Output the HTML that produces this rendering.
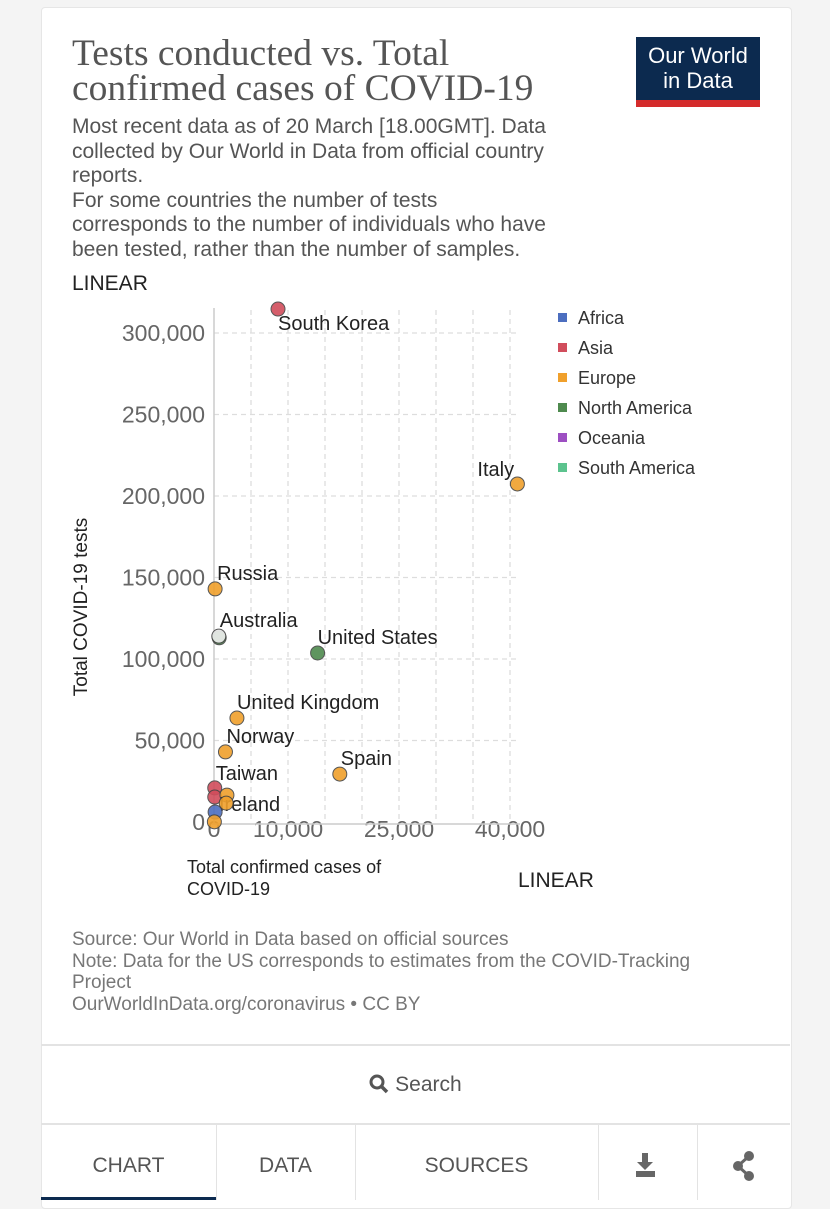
<!DOCTYPE html>
<html><head><meta charset="utf-8"><style>
body{margin:0;width:830px;height:1200px;background:#f4f4f4;font-family:"Liberation Sans",sans-serif;overflow:hidden;position:relative}
.card{position:absolute;left:41px;top:7px;width:749px;height:1200px;background:#fff;border:1px solid #e6e6e6;border-radius:4px}
.abs{position:absolute}
</style></head><body>
<div class="card"></div>
<div class="abs" style="left:72px;top:36px;font-family:'Liberation Serif',serif;font-size:37.5px;line-height:35px;color:#555;white-space:nowrap">Tests conducted vs. Total<br>confirmed cases of COVID-19</div>
<div class="abs" style="left:636px;top:37px;width:124px;height:70px;background:#0c2a4f;color:#fff;text-align:center;font-size:22px;line-height:25px;padding-top:6px;box-sizing:border-box;border-bottom:7px solid #d42b2b">Our World<br>in Data</div>
<div class="abs" style="left:72px;top:115px;font-size:21px;line-height:24.6px;color:#555;white-space:nowrap">Most recent data as of 20 March [18.00GMT]. Data<br>collected by Our World in Data from official country<br>reports.<br>For some countries the number of tests<br>corresponds to the number of individuals who have<br>been tested, rather than the number of samples.</div>
<div class="abs" style="left:72px;top:272px;font-size:21px;color:#222">LINEAR</div>
<div class="abs" style="left:518px;top:869px;font-size:21px;color:#222">LINEAR</div>
<div class="abs" style="left:187px;top:856px;font-size:18px;line-height:22px;color:#222">Total confirmed cases of<br>COVID-19</div>
<div class="abs" style="left:82px;top:607px;font-size:19px;color:#222;transform:translate(-50%,-50%) rotate(-90deg);white-space:nowrap">Total COVID-19 tests</div>
<svg class="abs" style="left:0;top:0" width="830" height="1000" id="chart"></svg>
<div class="abs" style="left:72px;top:929px;font-size:19px;line-height:21.5px;color:#777;width:640px">Source: Our World in Data based on official sources<br>Note: Data for the US corresponds to estimates from the COVID-Tracking Project<br>OurWorldInData.org/coronavirus • CC BY</div>
<div class="abs" style="left:41px;top:1044px;width:749px;height:81px;border-top:2px solid #e3e3e3;border-bottom:2px solid #e3e3e3;box-sizing:border-box;text-align:center;line-height:78px;font-size:21px;color:#555"><svg width="20" height="20" viewBox="0 0 20 20" style="vertical-align:-3px"><circle cx="8" cy="8" r="6" fill="none" stroke="#555" stroke-width="3"/><line x1="12" y1="12" x2="18" y2="18" stroke="#555" stroke-width="3.5"/></svg> Search</div>
<div class="abs" style="left:41px;top:1125px;width:175px;height:75px;text-align:center;line-height:82px;font-size:21px;color:#555;border-right:1px solid #e3e3e3;box-shadow:inset 0 -3px 0 #0c2a4f">CHART</div>
<div class="abs" style="left:216px;top:1125px;width:139px;height:75px;text-align:center;line-height:82px;font-size:21px;color:#555;border-right:1px solid #e3e3e3">DATA</div>
<div class="abs" style="left:355px;top:1125px;width:243px;height:75px;text-align:center;line-height:82px;font-size:21px;color:#555;border-right:1px solid #e3e3e3">SOURCES</div>
<div class="abs" style="left:598px;top:1125px;width:99px;height:75px;border-right:1px solid #e3e3e3"><svg width="99" height="75"><rect x="44" y="28" width="6" height="10" fill="#666"/><polygon points="39,37 55,37 47,45" fill="#666"/><rect x="38" y="46" width="19" height="6" fill="#666"/></svg></div>
<div class="abs" style="left:697px;top:1125px;width:93px;height:75px"><svg width="93" height="75"><line x1="52" y1="31" x2="41" y2="41" stroke="#666" stroke-width="3"/><line x1="52" y1="51" x2="41" y2="41" stroke="#666" stroke-width="3"/><circle cx="52" cy="31" r="5" fill="#666"/><circle cx="41" cy="41" r="5" fill="#666"/><circle cx="52" cy="51" r="5" fill="#666"/></svg></div>
<script>
const countries=["South Korea","Italy","Russia","Canada","Australia","United States","United Kingdom","Norway","Spain","Taiwan","Japan","Ireland","Austria","South Africa","Other Europe"];
const cases=[8650,41000,150,700,650,14000,3100,1550,17000,100,100,1750,1650,150,50];
const tests=[314700,207400,143000,113000,114000,103700,63800,43000,29400,20900,15300,16500,11600,6100,100];
const regions=["Asia","Europe","Europe","North America","Oceania","North America","Europe","Europe","Europe","Asia","Asia","Europe","Europe","Africa","Europe"];
const labels=["South Korea","Italy","Russia","","Australia","United States","United Kingdom","Norway","Spain","Taiwan","","Ireland","","",""];
const yTicks=[0,50000,100000,150000,200000,250000,300000];
const xTicks=[0,10000,25000,40000];
const legendNames=["Africa","Asia","Europe","North America","Oceania","South America"];
const legendColors=["#4c6ebf","#d14d5c","#f0a02c","#4e8a4e","#9d4fc2","#5cc38e"];
const svg=document.getElementById('chart');const NS="http://www.w3.org/2000/svg";
const X=v=>214+v*0.0074, Y=v=>822-v*0.00163;
function mk(t,a,p){const e=document.createElementNS(NS,t);for(const k in a)e.setAttribute(k,a[k]);(p||svg).appendChild(e);return e;}
for(let g=5000;g<=40000;g+=5000){const l=mk('line',{x1:X(g),x2:X(g),y1:310,y2:822,stroke:'#ddd','stroke-dasharray':'5,4','stroke-width':1.3});

}
yTicks.forEach(v=>{if(v>0){const l=mk('line',{x1:214,x2:517,y1:Y(v),y2:Y(v),stroke:'#ddd','stroke-dasharray':'5,4','stroke-width':1.3});

}
const t=mk('text',{x:205,y:Y(v)+8,'text-anchor':'end','font-size':23,fill:'#666','font-family':'Liberation Sans'});t.textContent=v.toLocaleString('en-US');

});
xTicks.forEach(v=>{const t=mk('text',{x:X(v),y:837,'text-anchor':'middle','font-size':23,fill:'#666','font-family':'Liberation Sans'});t.textContent=v.toLocaleString('en-US');

});
const ya=mk('line',{x1:214,x2:214,y1:308,y2:824,stroke:'#ccc','stroke-width':1.5});


const xa=mk('line',{x1:212,x2:520,y1:824,y2:824,stroke:'#ccc','stroke-width':1.5});


const col=r=>legendColors[legendNames.indexOf(r)];
const lx=[0,-40,2,0,1,0,0,1,1,1,0,-8,0,0,0], ly=[21,-8,-9,0,-9,-9,-9,-9,-9,-8,0,16,0,0,0];
countries.forEach((c,i)=>{const cx=X(cases[i]),cy=Y(tests[i]);
const d=mk('circle',{cx:cx,cy:cy,r:7,fill:regions[i]==='Oceania'?'#eee':col(regions[i]),stroke:'#444','stroke-width':1,opacity:0.9});


if(labels[i]){const t=mk('text',{x:cx+lx[i],y:cy+ly[i],'font-size':20,fill:'#222','font-family':'Liberation Sans'});
t.textContent=labels[i];

}});
legendNames.forEach((n,i)=>{const r=mk('rect',{x:558,y:313+i*30,width:9,height:9,fill:legendColors[i]});


const t=mk('text',{x:578,y:324+i*30,'font-size':18,fill:'#333','font-family':'Liberation Sans'});t.textContent=n;

});
</script>
</body></html>
